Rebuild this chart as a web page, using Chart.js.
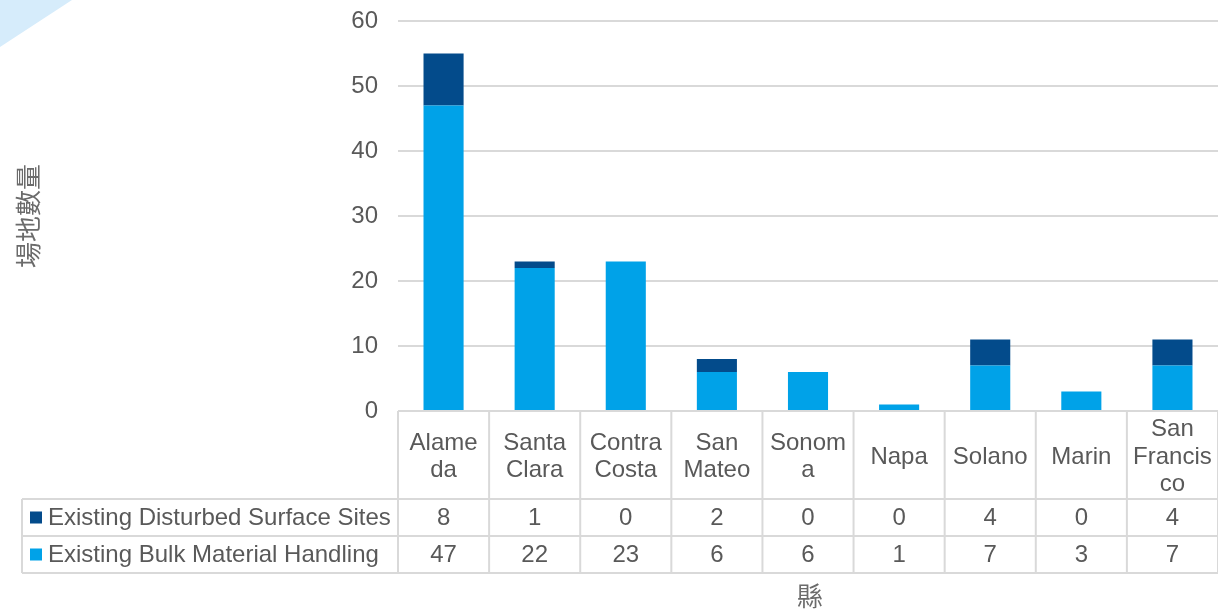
<!DOCTYPE html>
<html>
<head>
<meta charset="utf-8">
<script src="https://cdn.jsdelivr.net/npm/chart.js@4.4.1/dist/chart.umd.min.js"></script>
<style>
  html, body { margin: 0; padding: 0; background: #ffffff; }
  #wrap { width: 1218px; height: 610px; position: relative; }
</style>
</head>
<body>
<div id="wrap"><canvas id="c"></canvas></div>
<script>
// ---- data ----
const categories = [["Alame","da"],["Santa","Clara"],["Contra","Costa"],["San","Mateo"],["Sonom","a"],["Napa"],["Solano"],["Marin"],["San","Francis","co"]];
const seriesNames = ["Existing Disturbed Surface Sites", "Existing Bulk Material Handling"];
const disturbed = [8, 1, 0, 2, 0, 0, 4, 0, 4];
const bulk = [47, 22, 23, 6, 6, 1, 7, 3, 7];
const yMax = 60;
const yStep = 10;
const yTitle = "場地數量";
const xTitle = "縣";

const colDark = "#034b8b";
const colLight = "#00a2e8";
const textCol = "#595959";
const lineCol = "#d9d9d9";
const FONT = "'Liberation Sans', Arial, sans-serif";
const CJK = "'Noto Sans CJK TC', 'Noto Sans CJK SC', sans-serif";

const tablePlugin = {
  id: 'tablePlugin',
  beforeDraw(chart) {
    const ctx = chart.ctx;
    ctx.save();
    ctx.fillStyle = "#d6ecfb";
    ctx.beginPath();
    ctx.moveTo(0, 0);
    ctx.lineTo(72, 0);
    ctx.lineTo(0, 47);
    ctx.closePath();
    ctx.fill();
    ctx.restore();
  },
  afterDraw(chart) {
    const ctx = chart.ctx;
    const x = chart.scales.x;
    const area = chart.chartArea;
    const n = categories.length;
    const cw = x.getPixelForValue(1) - x.getPixelForValue(0);
    const left = x.getPixelForValue(0) - cw / 2;
    const right = x.getPixelForValue(n - 1) + cw / 2;
    const top = area.bottom;
    const headerH = 88;
    const rowH = 37;
    const r1 = top + headerH;
    const r2 = r1 + rowH;
    const r3 = r2 + rowH;
    const legLeft = 22;

    ctx.save();
    ctx.strokeStyle = lineCol;
    ctx.lineWidth = 2;
    ctx.beginPath();
    ctx.moveTo(left, top); ctx.lineTo(right, top);
    [r1, r2, r3].forEach(y => { ctx.moveTo(legLeft, y); ctx.lineTo(right, y); });
    for (let i = 0; i <= n; i++) {
      const xx = left + i * cw;
      ctx.moveTo(xx, top); ctx.lineTo(xx, r3);
    }
    ctx.moveTo(legLeft, r1); ctx.lineTo(legLeft, r3);
    ctx.stroke();

    // header labels
    ctx.fillStyle = textCol;
    ctx.font = "24px " + FONT;
    ctx.textAlign = "center";
    ctx.textBaseline = "middle";
    const lh = 27.5;
    categories.forEach((lab, i) => {
      const cx = x.getPixelForValue(i);
      const lines = Array.isArray(lab) ? lab : [lab];
      const cy = top + headerH / 2 + 2;
      lines.forEach((ln, k) => {
        ctx.fillText(ln, cx, cy + (k - (lines.length - 1) / 2) * lh);
      });
    });

    // rows
    const rows = [
      { name: seriesNames[0], color: colDark, vals: disturbed, y: (r1 + r2) / 2 },
      { name: seriesNames[1], color: colLight, vals: bulk, y: (r2 + r3) / 2 }
    ];
    rows.forEach(r => {
      ctx.fillStyle = r.color;
      ctx.fillRect(30, r.y - 6, 12, 12);
      ctx.fillStyle = textCol;
      ctx.textAlign = "left";
      ctx.fillText(r.name, 48, r.y + 1);
      ctx.textAlign = "center";
      r.vals.forEach((v, i) => {
        ctx.fillText(String(v), x.getPixelForValue(i), r.y + 1);
      });
    });

    // axis titles
    ctx.font = "26px " + CJK;
    ctx.fillStyle = "#6b6b6b";
    ctx.fillText(xTitle, (area.left + area.right) / 2 + 2, 596);
    ctx.translate(28, (area.top + area.bottom) / 2);
    ctx.rotate(-Math.PI / 2);
    ctx.fillText(yTitle, 0, 0);
    ctx.restore();
  }
};

new Chart(document.getElementById('c'), {
  type: 'bar',
  data: {
    labels: categories,
    datasets: [
      { label: seriesNames[1], data: bulk, backgroundColor: colLight, barPercentage: 0.44, categoryPercentage: 1 },
      { label: seriesNames[0], data: disturbed, backgroundColor: colDark, barPercentage: 0.44, categoryPercentage: 1 }
    ]
  },
  options: {
    responsive: true,
    maintainAspectRatio: false,
    animation: false,
    devicePixelRatio: 1,
    layout: { padding: { top: 21, right: 0, bottom: 199, left: 0 } },
    plugins: { legend: { display: false }, tooltip: { enabled: false }, title: { display: false } },
    scales: {
      x: { stacked: true, display: false },
      y: {
        stacked: true,
        min: 0, max: yMax,
        border: { display: false },
        grid: { color: lineCol, lineWidth: 2, drawTicks: false },
        ticks: { stepSize: yStep, color: textCol, padding: 20, font: { family: FONT, size: 24 } },
        afterFit(s) { s.width = 398; s.paddingTop = 0; s.paddingBottom = 0; }
      }
    }
  },
  plugins: [tablePlugin]
});
</script>
</body>
</html>
